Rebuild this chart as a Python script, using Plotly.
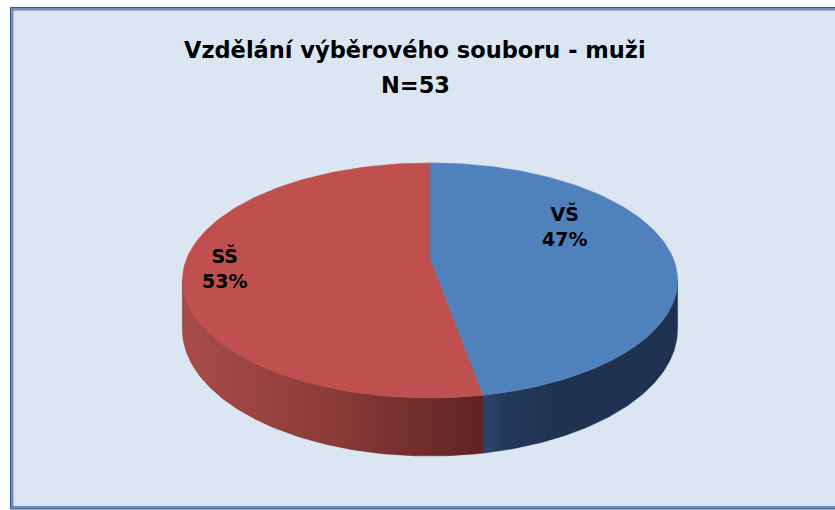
import math
import plotly.graph_objects as go

# ---- data ----
categories = ["VŠ", "SŠ"]
counts = [25, 28]            # N = 53
pct_text = ["47%", "53%"]
title_line1 = "Vzdělání výběrového souboru - muži"
title_line2 = "N=53"

# ---- style / geometry (pixel-like units) ----
top_colors = ["#4f81bd", "#c0504d"]
side_scales = [
    [[0, "#2d4468"], [0.12, "#233a5c"], [0.4, "#1f3250"], [1, "#1f3150"]],
    [[0, "#a84c48"], [0.5, "#8c3b38"], [1, "#5e2323"]],
]
CX, CY = 430.0, 258.0
A, B = 243.0, 113.2
K = 0.191
D = 47.0

def proj(theta_deg, r=1.0):
    t = math.radians(theta_deg)
    u, v = r * math.sin(t), r * math.cos(t)
    den = 1 + K * v
    return CX + A * u / den, CY - B * v / den, den

def arc(a, b, n=120):
    return [a + (b - a) * i / n for i in range(n + 1)]

total = sum(counts)
bounds = []
acc = 0.0
for c in counts:
    start = acc / total * 360
    acc += c
    bounds.append((start, acc / total * 360))

theta_r = math.degrees(math.acos(-K))
theta_l = 360 - theta_r

fig = go.Figure()

# sides
for i, (a, b) in enumerate(bounds):
    lo, hi = max(a, theta_r), min(b, theta_l)
    if hi <= lo:
        continue
    angs = arc(lo, hi)
    xs, ys = [], []
    for t in angs:
        x, y, _ = proj(t)
        xs.append(x); ys.append(y)
    for t in reversed(angs):
        x, y, den = proj(t)
        xs.append(x); ys.append(y + D / den)
    xs.append(xs[0]); ys.append(ys[0])
    fig.add_trace(go.Scatter(
        x=xs, y=ys, mode="lines", line=dict(width=0.5, color=side_scales[i][-1][1]),
        fill="toself", fillgradient=dict(type="horizontal", colorscale=side_scales[i]),
        hoverinfo="skip", showlegend=False))

# top faces
for i, (a, b) in enumerate(bounds):
    xs, ys = [CX], [CY]
    for t in arc(a, b):
        x, y, _ = proj(t)
        xs.append(x); ys.append(y)
    xs.append(CX); ys.append(CY)
    fig.add_trace(go.Scatter(
        x=xs, y=ys, mode="lines", line=dict(width=0.6, color=top_colors[i]),
        fill="toself", fillcolor=top_colors[i],
        hoverinfo="skip", showlegend=False))

label_pos = [(564, 226), (224, 268)]
for i, cat in enumerate(categories):
    fig.add_annotation(x=label_pos[i][0], y=label_pos[i][1], xref="x", yref="y",
                       text=f"<b>{cat}<br>{pct_text[i]}</b>", showarrow=False,
                       font=dict(family="DejaVu Sans", size=19, color="black"))

fig.add_annotation(x=415, y=50, xref="x", yref="y", text=f"<b>{title_line1}</b>",
                   showarrow=False, font=dict(family="DejaVu Sans", size=22.5, color="black"))
fig.add_annotation(x=415, y=85, xref="x", yref="y", text=f"<b>{title_line2}</b>",
                   showarrow=False, font=dict(family="DejaVu Sans", size=22.5, color="black"))

# frame
fig.add_shape(type="rect", xref="x", yref="y", x0=12, y0=9, x1=850, y1=507.5,
              fillcolor="#dce6f2", line=dict(color="#6f8ebd", width=3), layer="below")
fig.add_shape(type="rect", xref="x", yref="y", x0=10.5, y0=7.5, x1=852, y1=509,
              fillcolor="rgba(0,0,0,0)", line=dict(color="#30568c", width=1), layer="below")

fig.update_layout(
    width=835, height=510, margin=dict(l=0, r=0, t=0, b=0),
    paper_bgcolor="white", plot_bgcolor="rgba(0,0,0,0)",
    xaxis=dict(range=[0, 835], visible=False, fixedrange=True),
    yaxis=dict(range=[510, 0], visible=False, fixedrange=True),
    showlegend=False,
)
fig.write_html("out.html", config={"displayModeBar": False},
               post_script="document.body.style.margin='0';document.body.style.overflow='hidden';")
